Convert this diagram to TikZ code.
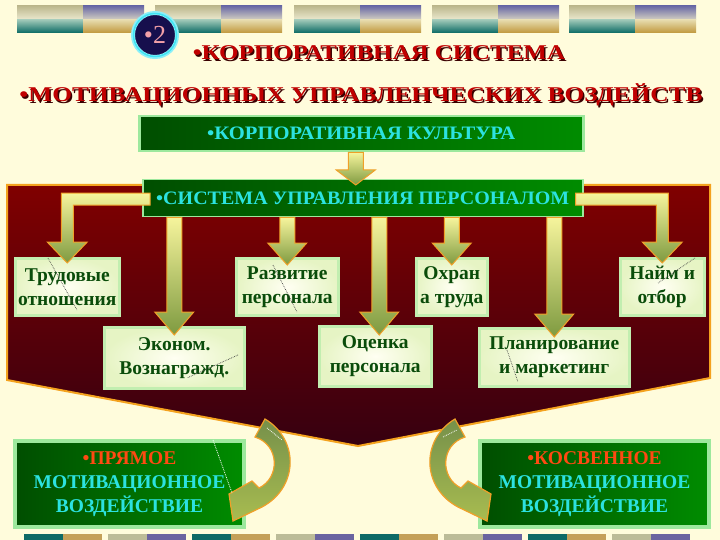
\documentclass[tikz,border=0pt]{standalone}
\usepackage{fontspec}
\setmainfont{Liberation Serif}
\usetikzlibrary{calc}
\definecolor{bg}{HTML}{FFFCDC}
\definecolor{bnA1}{HTML}{BDB88E}\definecolor{bnA2}{HTML}{ECEAD0}
\definecolor{bnB1}{HTML}{9CC6B6}\definecolor{bnB2}{HTML}{0A6A64}
\definecolor{bnC1}{HTML}{6A6AA6}\definecolor{bnC2}{HTML}{D6D2C2}
\definecolor{bnD1}{HTML}{E6DAAC}\definecolor{bnD2}{HTML}{C0983C}
\definecolor{barT}{HTML}{0E6A66}\definecolor{barN}{HTML}{C4A058}
\definecolor{barK}{HTML}{BCBC98}\definecolor{barP}{HTML}{6A64A0}
\definecolor{ttl}{HTML}{C00000}\definecolor{ttlS}{HTML}{3A0000}
\definecolor{cyanT}{HTML}{2CE2E0}\definecolor{redT}{HTML}{FF4A12}
\definecolor{gL}{HTML}{004E00}\definecolor{gR}{HTML}{008C00}
\definecolor{gE}{HTML}{9DE89D}
\definecolor{crmE}{HTML}{C2EEB0}\definecolor{crmI}{HTML}{FFFFF2}
\definecolor{crmO}{HTML}{E6F4C4}\definecolor{crmT}{HTML}{0A4C0A}
\definecolor{arrT}{HTML}{F6F49C}\definecolor{arrB}{HTML}{7E9A40}
\definecolor{arrE}{HTML}{F0A028}
\definecolor{redTop}{HTML}{800000}\definecolor{redMid}{HTML}{6E0004}
\definecolor{redBot}{HTML}{360010}\definecolor{redE}{HTML}{F4A21E}
\definecolor{numF}{HTML}{160F4D}\definecolor{numE}{HTML}{40E4F4}
\definecolor{numT}{HTML}{F2A0A8}
\definecolor{cT}{HTML}{76904A}\definecolor{cM}{HTML}{E6EE78}
\definecolor{cB}{HTML}{A8BC50}

\newcommand\ttltext[2]{\resizebox{#1}{\height}{\bfseries\fontsize{21}{21}\selectfont #2}}
\newcommand\boxtext[2]{\resizebox{#1}{\height}{\bfseries\fontsize{19}{19}\selectfont #2}}
% vertical arrow: src, dst, xshift, tip depth, head length
\newcommand\varr[5]{%
  \path[arrsty] let \p1=(#1.south), \p2=($(#2.north)+(#3,0)$) in
   (\x2-7.5pt,\y1) -- (\x2+7.5pt,\y1) -- (\x2+7.5pt,\y2-#4pt+#5pt)
   -- (\x2+19.5pt,\y2-#4pt+#5pt) -- (\x2,\y2-#4pt) -- (\x2-19.5pt,\y2-#4pt+#5pt)
   -- (\x2-7.5pt,\y2-#4pt+#5pt) -- cycle;}
% L arrows from the side of src down to dst
\newcommand\larrL[2]{%
  \path[arrsty] let \p1=(#1.west), \p2=(#2.north) in
   (\x1+8pt,\y1+5pt) -- (\x2-6pt,\y1+5pt) -- (\x2-6pt,\y2+15pt) -- (\x2-20pt,\y2+15pt)
   -- (\x2,\y2-6pt) -- (\x2+20pt,\y2+15pt) -- (\x2+6pt,\y2+15pt) -- (\x2+6pt,\y1-7pt)
   -- (\x1+8pt,\y1-7pt) -- cycle;}
\newcommand\larrR[2]{%
  \path[arrsty] let \p1=(#1.east), \p2=(#2.north) in
   (\x1-8pt,\y1+5pt) -- (\x2+6pt,\y1+5pt) -- (\x2+6pt,\y2+15pt) -- (\x2+20pt,\y2+15pt)
   -- (\x2,\y2-6pt) -- (\x2-20pt,\y2+15pt) -- (\x2-6pt,\y2+15pt) -- (\x2-6pt,\y1-7pt)
   -- (\x1-8pt,\y1-7pt) -- cycle;}

\begin{document}
\begin{tikzpicture}[x=1pt,y=-1pt,
  arrsty/.style={top color=arrT, bottom color=arrB, draw=arrE, line width=1pt},
  crm/.style={anchor=north west, inner sep=0pt, draw=crmE, line width=2.5pt,
    inner color=crmI, outer color=crmO, text=crmT,
    font=\bfseries\fontsize{19.5}{24}\selectfont, align=center},
  gbox/.style={anchor=north west, inner sep=0pt, draw=gE, left color=gL, right color=gR,
    align=center, font=\bfseries\fontsize{19.5}{24}\selectfont, text=cyanT},
  carrow/.style={top color=cT, middle color=cM, bottom color=cB, draw=arrE, line width=1.2pt},
  art/.style={densely dotted, line width=0.7pt, black!75},
  artw/.style={densely dotted, line width=0.8pt, white}]
\useasboundingbox (0,0) rectangle (720,540);
\fill[bg] (0,0) rectangle (720,540);

% top banner
\foreach \s in {17,155,294,432,569}{
  \path[top color=bnA1, bottom color=bnA2] (\s,6) rectangle ++(66,14);
  \path[top color=bnB1, bottom color=bnB2] (\s,20) rectangle ++(66,13);
  \path[top color=bnC1, bottom color=bnC2] ({\s+66},6) rectangle ++(61,14);
  \path[top color=bnD1, bottom color=bnD2] ({\s+66},20) rectangle ++(61,13);
}
% bottom bar
\foreach \k in {0,...,7}{
  \pgfmathsetmacro\p{24+84*\k}
  \ifodd\k
    \fill[barK] (\p,534) rectangle ++(39,8);
    \fill[barP] ({\p+39},534) rectangle ++(39,8);
  \else
    \fill[barT] (\p,534) rectangle ++(39,8);
    \fill[barN] ({\p+39},534) rectangle ++(39,8);
  \fi
}

% number badge
\node[circle, minimum size=44pt, inner sep=0pt, fill=numF, draw=numE!60!white, line width=4pt] (num) at (155,35) {};
\node[circle, minimum size=43pt, inner sep=0pt, draw=numE, line width=1.5pt, text=numT,
  font=\fontsize{26}{26}\selectfont] (numtxt) at (155,35) {•2};

% titles
\node[anchor=base, text=ttlS] at (380.5,61.5) {\ttltext{372pt}{•КОРПОРАТИВНАЯ СИСТЕМА}};
\node[anchor=base, text=ttl] (t1) at (379,60) {\ttltext{372pt}{•КОРПОРАТИВНАЯ СИСТЕМА}};
\node[anchor=base, text=ttlS] at (362.5,103.5) {\ttltext{683pt}{•МОТИВАЦИОННЫХ УПРАВЛЕНЧЕСКИХ ВОЗДЕЙСТВ}};
\node[anchor=base, text=ttl] (t2) at (361,102) {\ttltext{683pt}{•МОТИВАЦИОННЫХ УПРАВЛЕНЧЕСКИХ ВОЗДЕЙСТВ}};

% corporate culture box
\node[gbox, line width=2.5pt, minimum width=444pt, minimum height=35pt] (kult) at (138,115)
  {\boxtext{308pt}{•КОРПОРАТИВНАЯ КУЛЬТУРА}};

% dark red frame
\path[top color=redTop, middle color=redMid, bottom color=redBot, draw=redE, line width=2pt]
  (7,185) -- (710,185) -- (710,378) -- (358,446) -- (7,380) -- cycle;

% personnel management box
\node[gbox, line width=1.5pt, minimum width=440pt, minimum height=37pt] (sys) at (142,179)
  {\boxtext{413pt}{•СИСТЕМА УПРАВЛЕНИЯ ПЕРСОНАЛОМ}};

% target boxes
\node[crm, minimum width=104pt, minimum height=57pt] (trud) at (14,257) {Трудовые\\отношения};
\node[crm, minimum width=102pt, minimum height=57pt] (razv) at (235,257) {Развитие\\персонала};
\node[crm, minimum width=71pt, minimum height=57pt] (ohran) at (415,257) {Охран\\а труда};
\node[crm, minimum width=84pt, minimum height=57pt] (naim) at (619,257) {Найм и\\отбор};
\node[crm, minimum width=140pt, minimum height=61pt] (econ) at (103,326) {Эконом.\\Вознагражд.};
\node[crm, minimum width=112pt, minimum height=60pt] (ocen) at (318,325) {Оценка\\персонала};
\node[crm, minimum width=150pt, minimum height=58pt] (plan) at (478,327) {Планирование\\и маркетинг};

% arrows
\varr{kult}{sys}{-7}{6}{15}
\larrL{sys}{trud}
\larrR{sys}{naim}
\varr{sys}{econ}{0}{9}{23}
\varr{sys}{razv}{0}{8}{22}
\varr{sys}{ocen}{4}{10}{23}
\varr{sys}{ohran}{0}{8}{22}
\varr{sys}{plan}{0}{10}{23}

% bottom boxes
\node[gbox, line width=4pt, minimum width=229pt, minimum height=86pt] (pr) at (13,439)
  {\textcolor{redT}{•ПРЯМОЕ}\\МОТИВАЦИОННОЕ\\ВОЗДЕЙСТВИЕ};
\node[gbox, line width=4pt, minimum width=229pt, minimum height=86pt] (kos) at (478,439)
  {\textcolor{redT}{•КОСВЕННОЕ}\\МОТИВАЦИОННОЕ\\ВОЗДЕЙСТВИЕ};

% curved arrows
\path[carrow] (265,419) .. controls (300,440) and (298,488) .. (262,507) -- (233,521)
  -- (229,494) -- (252,481) -- (259,488) .. controls (280,478) and (280,445) .. (255,437) -- cycle;
\path[carrow] (455,419) .. controls (420,440) and (422,488) .. (458,507) -- (487,521)
  -- (491,494) -- (468,481) -- (461,488) .. controls (440,478) and (440,445) .. (465,437) -- cycle;

% dotted traces
\draw[art] (48,258) -- (77,310);
\draw[art] (273,265) -- (297,312);
\draw[art] (238,355) -- (187,378);
\draw[art] (695,258) -- (658,283);
\draw[art] (507,350) -- (518,382);
\draw[artw] (213,440) -- (232,493);
\draw[artw] (267,428) -- (282,440);
\draw[artw] (443,437) -- (457,430);
\end{tikzpicture}
\end{document}
